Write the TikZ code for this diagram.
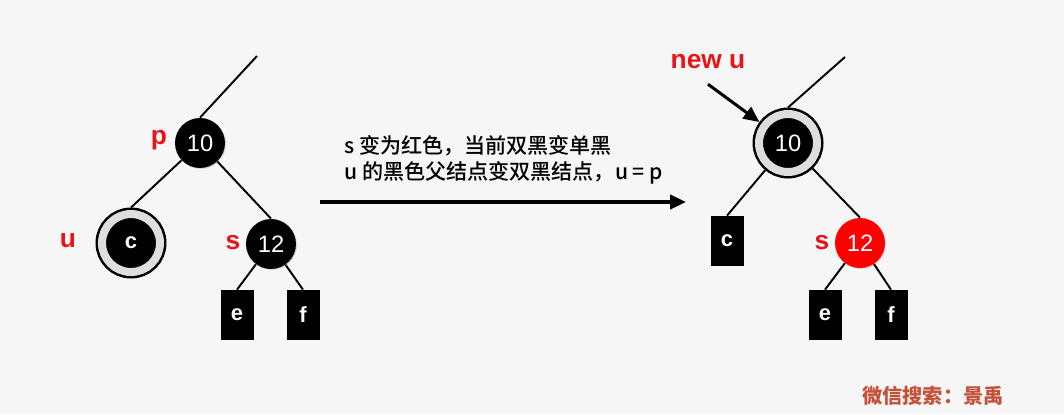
\documentclass[tikz,border=0pt]{standalone}
\usepackage{fontspec}
\setmainfont{Liberation Sans}
\newfontfamily\cjk{Noto Sans CJK SC Medium}
\newfontfamily\cjkbold{Noto Sans CJK SC}
\usetikzlibrary{
  arrows.meta,
  positioning,
  shadows
}
\definecolor{PaperGray}{RGB}{246, 246, 246}
\definecolor{RingGray}{RGB}{222, 222, 222}
\definecolor{MarkRed}{RGB}{232, 20, 24}
\definecolor{StampRed}{RGB}{196, 82, 58}
\tikzset{
    every node/.style={font=\fontsize{13.5}{16}\selectfont},
    blacknode/.style={circle, fill=black, text=white, minimum size=1cm, inner sep=0pt,
        drop shadow={opacity=0.25, shadow xshift=0.6pt, shadow yshift=-0.6pt}},
    rednode/.style={blacknode, fill=red},
    doublenode/.style={circle, fill=black, text=white, minimum size=1.16cm, inner sep=0pt,
        draw=black, line width=0.05cm, double=RingGray, double distance=0.16cm, outer sep=0.13cm},
    leafbox/.style={rectangle, fill=black, text=white, minimum width=0.66cm, minimum height=1cm,
        inner sep=0pt, font=\bfseries\fontsize{12.5}{14}\selectfont},
    tag/.style={text=MarkRed, font=\bfseries\fontsize{15}{18}\selectfont},
    edge/.style={line width=1.1pt},
    pointer/.style={line width=1.7pt, -{Triangle[length=9pt, width=8pt]}}
}

\begin{document}
\begin{tikzpicture}[x=0.02cm, y=-0.02cm]
    \fill[PaperGray] (0,0) rectangle (1064,414);

    % before: u is the doubly black leaf
    \node[blacknode] (p) at (200,143) {10};
    \node[doublenode, font=\bfseries\fontsize{12.5}{14}\selectfont] (u) at (131,243) {c};
    \node[blacknode] (s) at (271,244) {12};
    \node[leafbox] (e) at (237,315) {e};
    \node[leafbox] (f) at (303,315) {f};
    \coordinate (ptop) at (257,56);
    \node[tag] (ptag) at (159,140) {p};
    \node[tag] (utag) at (68,241) {u};
    \node[tag] (stag) at (233,243) {s};

    \draw[edge] (p.north) -- (ptop);
    \draw[edge] (p) -- (u.north);
    \draw[edge] (p) -- (s.north);
    \draw[edge] (s) -- (e.north);
    \draw[edge] (s) -- (f.north);

    % step
    \node[anchor=west, align=left, font=\cjk\fontsize{12}{14.7}\selectfont] (note) at (338,160)
        {s 变为红色，当前双黑变单黑\\u 的黑色父结点变双黑结点，u = p};
    \coordinate (go) at (320,202);
    \coordinate (stop) at (686,202);
    \draw[pointer, line width=2pt] (go) -- (stop);

    % after: p becomes the new u
    \node[doublenode] (newu) at (788,143) {10};
    \node[leafbox] (rc) at (727,241) {c};
    \node[rednode] (rs) at (860,243) {12};
    \node[leafbox] (re) at (825,315) {e};
    \node[leafbox] (rf) at (891,315) {f};
    \coordinate (newtop) at (845,57);
    \node[tag] (newtag) at (708,62) {new u};
    \node[tag] (rstag) at (822,243) {s};

    \draw[edge] (newu.north) -- (newtop);
    \draw[edge] (newu) -- (rc.north);
    \draw[edge] (newu) -- (rs.north);
    \draw[edge] (rs) -- (re.north);
    \draw[edge] (rs) -- (rf.north);
    \draw[pointer] ([yshift=-5pt]newtag.south) -- (newu);

    \node[font=\cjkbold\bfseries\fontsize{11.5}{13}\selectfont, text=StampRed] (stamp) at (933,396) {微信搜索：景禹};
\end{tikzpicture}
\end{document}
